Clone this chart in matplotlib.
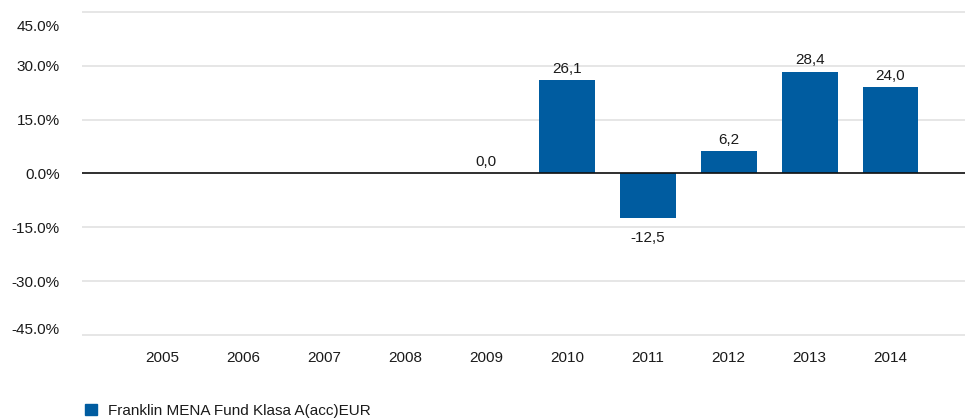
import matplotlib.pyplot as plt
import matplotlib.transforms as mtransforms

# data
years = ['2005', '2006', '2007', '2008', '2009', '2010', '2011', '2012', '2013', '2014']
returns = [None, None, None, None, 0.0, 26.1, -12.5, 6.2, 28.4, 24.0]
series_name = 'Franklin MENA Fund Klasa A(acc)EUR'
yticks = [-45, -30, -15, 0, 15, 30, 45]

bar_color = '#005ca0'
text_color = '#1a1a1a'
plt.rcParams['font.family'] = ['Liberation Sans', 'DejaVu Sans']
fs = 11

fig = plt.figure(figsize=(9.65, 4.19), dpi=100)
ax = fig.add_axes([0.085, 0.198, 0.915, 0.776])

xs = list(range(len(years)))
vals = [v if v is not None else 0 for v in returns]
ax.bar(xs, vals, width=0.69, color=bar_color, zorder=3)

for x, v in zip(xs, returns):
    if v is None:
        continue
    label = f'{v:.1f}'.replace('.', ',')
    if v < 0:
        ax.annotate(label, (x, v), xytext=(0, -9), textcoords='offset points',
                    ha='center', va='top', fontsize=fs, color=text_color)
    else:
        ax.annotate(label, (x, v), xytext=(0, 3), textcoords='offset points',
                    ha='center', va='bottom', fontsize=fs, color=text_color)

ax.set_xlim(-0.99, 9.92)
ax.set_ylim(-45.3, 45.3)
ax.set_xticks(xs)
ax.set_xticklabels(years, fontsize=fs, color=text_color)
ax.set_yticks(yticks)
ax.set_yticklabels([f'{t:.1f}%' for t in yticks], fontsize=fs, color=text_color)
ax.tick_params(length=0)
ax.tick_params(axis='x', pad=11)
ax.tick_params(axis='y', pad=16)

# extreme labels sit inside the plot area in the original
ylabs = ax.get_yticklabels()
ylabs[0].set_transform(ylabs[0].get_transform() +
                       mtransforms.ScaledTranslation(0, 6 / 100, fig.dpi_scale_trans))
ylabs[-1].set_transform(ylabs[-1].get_transform() +
                        mtransforms.ScaledTranslation(0, -14 / 100, fig.dpi_scale_trans))

ax.grid(axis='y', color='#e2e2e2', linewidth=1.2, zorder=0)
ax.axhline(0, color='#111111', linewidth=1.2, zorder=4)
for s in ax.spines.values():
    s.set_visible(False)

leg = ax.legend([plt.Rectangle((0, 0), 1, 1, color=bar_color)], [series_name],
                loc='upper left', bbox_to_anchor=(-0.012, -0.167), frameon=False,
                fontsize=fs, handlelength=0.75, handleheight=0.75, handletextpad=0.75)
for t in leg.get_texts():
    t.set_color(text_color)

fig.savefig('out.png', dpi=100)
